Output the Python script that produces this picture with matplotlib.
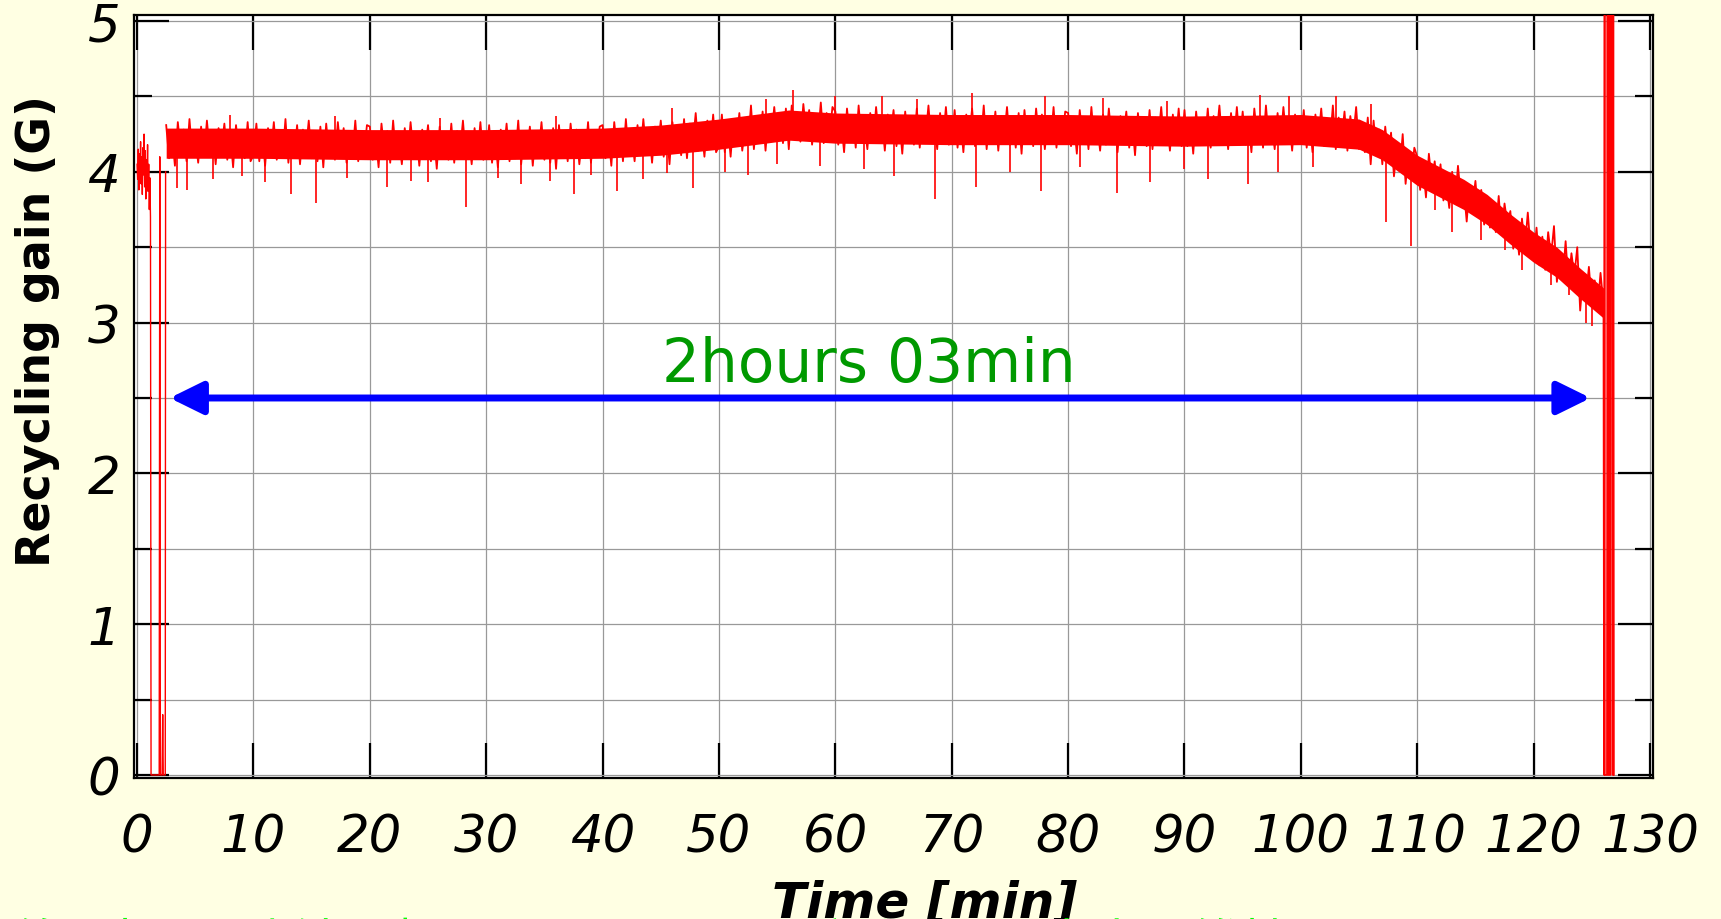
import numpy as np
import matplotlib
matplotlib.use("Agg")
import matplotlib.pyplot as plt
from matplotlib.ticker import MultipleLocator

# ---- data ----
# start-up: short run, beam loss and restart
start_t = [0.0, 0.05, 0.1, 0.15, 0.2, 0.25, 0.3, 0.35, 0.4, 0.45, 0.5, 0.55,
           0.6, 0.65, 0.7, 0.75, 0.8, 0.85, 0.9, 0.95, 1.0, 1.05, 1.1, 1.15,
           1.2, 1.9, 1.95, 2.0, 2.15, 2.2, 2.25, 2.42, 2.45]
start_g = [4.05, 3.95, 4.15, 3.88, 4.12, 4.00, 4.20, 3.92, 4.10, 3.85, 4.16, 3.98,
           4.25, 3.90, 4.14, 3.82, 4.08, 3.95, 4.18, 3.87, 4.05, 3.75, 3.96, 3.70,
           0.0, 0.0, 4.1, 0.0, 0.0, 0.4, 0.0, 0.0, 4.0]

# main run, sampled every 0.25 min from 2.5 to 126.0 min
main_t0, main_dt = 2.5, 0.25
main_g = [
    # 2.5 - 9.75
    4.31, 4.09, 4.25, 4.04, 4.33, 4.14, 4.28, 4.07, 4.35, 4.11, 4.23, 4.06, 4.30, 4.10, 4.34,
    4.13, 4.27, 4.05, 4.29, 4.15, 4.32, 4.08, 4.26, 4.03, 4.31, 4.12, 4.24, 4.09, 4.33, 4.07,
    # 10 - 19.75
    4.11, 4.32, 4.07, 4.26, 4.04, 4.29, 4.13, 4.33, 4.08, 4.24, 4.10, 4.35, 4.06, 4.27, 4.12, 4.31, 4.05, 4.28, 4.14, 4.34,
    4.09, 4.25, 4.07, 4.30, 4.03, 4.32, 4.11, 4.26, 4.08, 4.33, 4.13, 4.29, 4.06, 4.24, 4.10, 4.34, 4.07, 4.27, 4.12, 4.31,
    # 20 - 29.75
    4.30, 4.08, 4.24, 4.03, 4.32, 4.13, 4.27, 4.06, 4.34, 4.10, 4.22, 4.05, 4.29, 4.09, 4.33, 4.12, 4.26, 4.04, 4.28, 4.14,
    4.31, 4.07, 4.25, 4.02, 4.30, 4.11, 4.23, 4.08, 4.32, 4.06, 4.27, 4.13, 4.34, 4.09, 4.24, 4.05, 4.29, 4.10, 4.33, 4.08,
    # 30 - 39.75
    4.10, 4.31, 4.06, 4.25, 4.03, 4.28, 4.12, 4.32, 4.07, 4.23, 4.09, 4.34, 4.05, 4.26, 4.11, 4.30, 4.04, 4.27, 4.13, 4.33,
    4.08, 4.24, 4.06, 4.29, 4.02, 4.31, 4.10, 4.25, 4.07, 4.32, 4.12, 4.28, 4.05, 4.23, 4.09, 4.33, 4.06, 4.26, 4.11, 4.30,
    # 40 - 49.75
    4.31, 4.09, 4.25, 4.04, 4.33, 4.14, 4.28, 4.07, 4.35, 4.11, 4.24, 4.07, 4.31, 4.11, 4.35, 4.14, 4.28, 4.06, 4.30, 4.16,
    4.34, 4.10, 4.28, 4.05, 4.33, 4.14, 4.26, 4.11, 4.35, 4.09, 4.32, 4.18, 4.39, 4.14, 4.29, 4.10, 4.34, 4.15, 4.38, 4.13,
    # 50 - 59.75
    4.17, 4.38, 4.13, 4.32, 4.10, 4.35, 4.19, 4.39, 4.14, 4.30, 4.19, 4.44, 4.15, 4.36, 4.21, 4.40, 4.14, 4.37, 4.23, 4.43,
    4.21, 4.37, 4.19, 4.42, 4.15, 4.44, 4.23, 4.38, 4.20, 4.45, 4.25, 4.41, 4.18, 4.36, 4.22, 4.46, 4.19, 4.39, 4.24, 4.43,
    # 60 - 69.75
    4.40, 4.18, 4.34, 4.13, 4.42, 4.23, 4.37, 4.16, 4.44, 4.20, 4.32, 4.15, 4.39, 4.19, 4.43, 4.22, 4.36, 4.14, 4.38, 4.24,
    4.41, 4.17, 4.35, 4.12, 4.40, 4.21, 4.33, 4.18, 4.42, 4.16, 4.37, 4.23, 4.44, 4.19, 4.34, 4.15, 4.39, 4.20, 4.43, 4.18,
    # 70 - 79.75
    4.20, 4.41, 4.16, 4.35, 4.13, 4.38, 4.22, 4.42, 4.17, 4.33, 4.19, 4.44, 4.15, 4.36, 4.21, 4.40, 4.14, 4.37, 4.23, 4.43,
    4.18, 4.34, 4.16, 4.39, 4.12, 4.41, 4.20, 4.35, 4.17, 4.42, 4.22, 4.38, 4.15, 4.33, 4.19, 4.43, 4.16, 4.36, 4.21, 4.40,
    # 80 - 89.75
    4.39, 4.17, 4.33, 4.12, 4.41, 4.22, 4.36, 4.15, 4.43, 4.19, 4.31, 4.14, 4.38, 4.18, 4.42, 4.21, 4.35, 4.13, 4.37, 4.23,
    4.40, 4.16, 4.34, 4.11, 4.39, 4.20, 4.32, 4.17, 4.41, 4.15, 4.36, 4.22, 4.43, 4.18, 4.33, 4.14, 4.38, 4.19, 4.42, 4.17,
    # 90 - 99.75
    4.41, 4.17, 4.35, 4.12, 4.40, 4.21, 4.33, 4.18, 4.42, 4.16, 4.37, 4.23, 4.44, 4.19, 4.34, 4.15, 4.39, 4.20, 4.43, 4.18,
    4.40, 4.18, 4.34, 4.13, 4.42, 4.23, 4.37, 4.16, 4.44, 4.20, 4.32, 4.15, 4.39, 4.19, 4.43, 4.22, 4.36, 4.14, 4.38, 4.24,
    # 100 - 109.75
    4.20, 4.41, 4.16, 4.35, 4.13, 4.38, 4.22, 4.42, 4.17, 4.33, 4.19, 4.44, 4.15, 4.36, 4.21, 4.40, 4.14, 4.37, 4.23, 4.43,
    4.15, 4.31, 4.13, 4.36, 4.05, 4.34, 4.13, 4.28, 4.05, 4.30, 4.10, 4.26, 3.97, 4.15, 4.01, 4.25, 3.92, 4.12, 3.97, 4.16,
    # 110 - 119.75
    4.10, 3.88, 4.04, 3.83, 4.12, 3.93, 4.07, 3.86, 4.05, 3.81, 3.93, 3.76, 4.00, 3.80, 4.04, 3.83, 3.89, 3.67, 3.91, 3.77,
    3.94, 3.70, 3.88, 3.65, 3.82, 3.63, 3.75, 3.60, 3.84, 3.58, 3.79, 3.65, 3.74, 3.49, 3.64, 3.45, 3.69, 3.50, 3.73, 3.48,
    # 120 - 126.0
    3.42, 3.63, 3.38, 3.57, 3.35, 3.60, 3.44, 3.64, 3.27, 3.43, 3.29, 3.54, 3.25, 3.46, 3.31, 3.50,
    3.08, 3.31, 3.17, 3.37, 3.12, 3.28, 3.10, 3.33, 3.12,
]

# dense core of the noise band
band_t = [2.5, 10, 20, 30, 40, 45, 50, 53, 56, 60, 70, 80, 90, 100, 105, 107,
          110, 112, 114, 116, 118, 120, 122, 124, 126]
band_lo = [4.09, 4.09, 4.08, 4.08, 4.09, 4.11, 4.15, 4.18, 4.21, 4.19, 4.18, 4.18, 4.17,
           4.18, 4.15, 4.08, 3.91, 3.83, 3.75, 3.65, 3.52, 3.40, 3.30, 3.16, 3.03]
band_hi = [4.29, 4.29, 4.28, 4.28, 4.29, 4.31, 4.35, 4.38, 4.41, 4.39, 4.38, 4.38, 4.37,
           4.38, 4.35, 4.28, 4.11, 4.03, 3.95, 3.85, 3.72, 3.60, 3.50, 3.36, 3.23]

# isolated spikes out of the band
spike_t = [3.4, 4.3, 6.5, 9.0, 11.0, 13.2, 15.4, 18.0, 21.5, 23.5, 25.0, 28.3,
           31.0, 33.0, 35.5, 37.5, 39.0, 41.2, 43.5, 45.5, 47.8, 50.5, 52.5,
           55.0, 58.7, 62.5, 65.0, 68.6, 72.1, 75.0, 77.7, 81.0, 84.2, 87.0,
           90.0, 92.0, 95.5, 98.0, 101.0, 107.3, 109.5, 111.5, 113.0, 115.5,
           117.5, 119.0, 121.5, 123.0, 124.5, 125.0,
           8.0, 17.0, 26.0, 36.0, 46.0, 54.0, 56.4, 60.0, 64.0, 67.0, 71.7,
           78.0, 83.0, 88.5, 96.5, 99.0, 103.0, 106.0]
spike_g = [3.89, 3.88, 3.95, 3.97, 3.93, 3.85, 3.79, 3.96, 3.90, 3.94, 3.93, 3.77,
           3.96, 3.92, 3.94, 3.85, 3.98, 3.87, 3.95, 3.99, 3.89, 4.00, 3.98,
           4.05, 4.04, 4.02, 3.97, 3.82, 3.90, 4.00, 3.87, 4.03, 3.86, 3.93,
           4.02, 3.95, 3.92, 4.00, 4.03, 3.67, 3.51, 3.75, 3.60, 3.55,
           3.48, 3.35, 3.25, 3.18, 3.00, 2.98,
           4.38, 4.37, 4.36, 4.37, 4.42, 4.48, 4.54, 4.50, 4.50, 4.48, 4.52,
           4.50, 4.49, 4.47, 4.51, 4.50, 4.50, 4.45]

# end of run: signal saturating
end_t = [126.0, 126.05, 126.1, 126.12, 126.3, 126.35, 126.4, 126.45, 126.5, 126.55,
         126.6, 126.65, 126.7, 126.75, 126.8, 126.85, 126.9]
end_g = [3.12, 0.0, 6.0, 0.0, 0.0, 6.0, 0.0, 6.0, 0.0, 6.0,
         0.0, 6.0, 4.4, 6.0, 0.0, 6.0, 0.0]

run_start, run_end = 2.8, 124.9
run_label = "2hours 03min"
x_ticks = list(range(0, 131, 10))
y_ticks = [0, 1, 2, 3, 4, 5]
note_jp = "約2時間の連続運転でリサイクリングゲインを安定に維持"

# ---- figure ----
BG = "#FFFFE3"
fig = plt.figure(figsize=(17.21, 9.20), dpi=100, facecolor=BG)
ax = fig.add_axes([0.0779, 0.1533, 0.8826, 0.8293])
ax.set_facecolor("white")

main_t = main_t0 + main_dt * np.arange(len(main_g))
ax.fill_between(band_t, band_lo, band_hi, color="red", lw=0, zorder=2)
ax.plot(start_t, start_g, color="red", lw=1.0, zorder=3)
ax.plot(main_t, main_g, color="red", lw=1.3, zorder=3)
ax.plot(end_t, end_g, color="red", lw=1.2, zorder=3)
base = np.interp(spike_t, band_t, (np.array(band_lo) + np.array(band_hi)) / 2)
ax.vlines(spike_t, spike_g, base, color="red", lw=1.2, zorder=3)

# duration arrow
ax.annotate("", xy=(run_start, 2.5), xytext=(run_end, 2.5),
            arrowprops=dict(arrowstyle="<|-|>,head_length=0.67,head_width=0.33",
                            mutation_scale=30, color="#0000FF", lw=5,
                            shrinkA=0, shrinkB=0), zorder=4)
ax.text((run_start + run_end) / 2 - 0.95, 2.61, run_label, color="#009900",
        fontsize=43, ha="center", va="baseline", zorder=5)

ax.set_xlim(-0.26, 130.26)
ax.set_ylim(-0.02, 5.04)
ax.set_xticks(x_ticks)
ax.set_yticks(y_ticks)
ax.yaxis.set_minor_locator(MultipleLocator(0.5))
ax.grid(True, which="major", color="#999999", lw=0.9)
ax.grid(True, which="minor", axis="y", color="#999999", lw=0.9)
ax.set_axisbelow(True)

ax.tick_params(axis="both", which="major", direction="in", length=25, width=1.6,
               top=True, right=True, labelsize=37)
ax.tick_params(axis="y", which="minor", direction="in", length=13, width=1.6,
               left=True, right=True)
ax.tick_params(axis="x", pad=25)
ax.tick_params(axis="y", pad=10)
for lbl in ax.get_xticklabels() + ax.get_yticklabels():
    lbl.set_fontstyle("italic")
for s in ax.spines.values():
    s.set_linewidth(1.6)

fig.text(38 / 1721, 1 - 331 / 920, "Recycling gain (G)", rotation=90,
         fontsize=33, fontweight="bold", ha="center", va="center")
fig.text(925 / 1721, 2 / 920, "Time [min]", fontsize=36, fontweight="bold",
         fontstyle="italic", ha="center", va="baseline")
fig.text(15 / 1721, 0.0, note_jp, color="#00FF00", fontsize=36,
         family=["Noto Sans CJK JP", "DejaVu Sans"], ha="left", va="top")

fig.savefig("out.png", dpi=100, facecolor=BG)
